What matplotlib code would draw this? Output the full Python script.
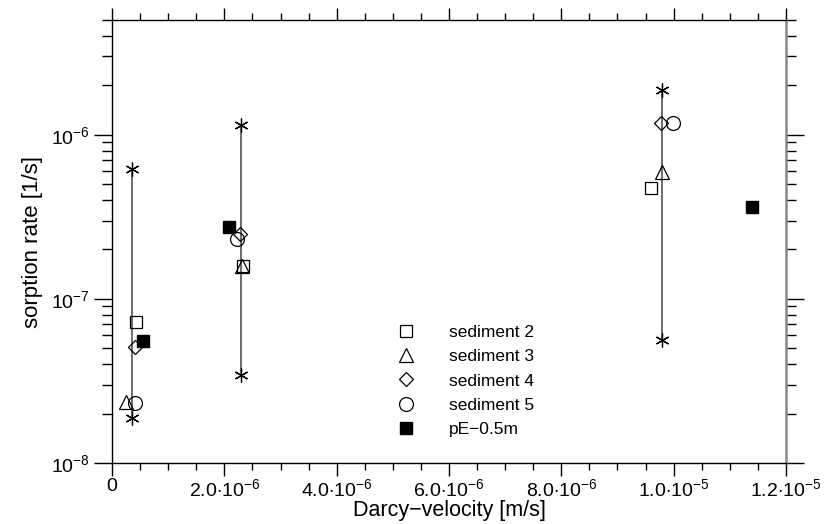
import numpy as np
import matplotlib.pyplot as plt
from matplotlib.ticker import FixedLocator, MultipleLocator, LogLocator, NullFormatter

plt.rcParams['font.family'] = ['Liberation Sans', 'DejaVu Sans']
plt.rcParams['mathtext.fontset'] = 'custom'
plt.rcParams['mathtext.rm'] = 'Liberation Sans'
plt.rcParams['mathtext.it'] = 'Liberation Sans:italic'

# ranges (asterisks joined by a vertical line)
range_x = [0.35e-6, 2.29e-6, 9.80e-6]
range_hi = [6.2e-7, 1.15e-6, 1.87e-6]
range_lo = [1.87e-8, 3.46e-8, 5.62e-8]

# sediment series
sed2_x = [0.42e-6, 2.33e-6, 9.60e-6]
sed2_y = [7.2e-8, 1.58e-7, 4.73e-7]
sed3_x = [0.25e-6, 2.31e-6, 9.80e-6]
sed3_y = [2.35e-8, 1.58e-7, 5.9e-7]
sed4_x = [0.41e-6, 2.28e-6, 9.78e-6]
sed4_y = [5.1e-8, 2.47e-7, 1.18e-6]
sed5_x = [0.41e-6, 2.23e-6, 9.99e-6]
sed5_y = [2.32e-8, 2.30e-7, 1.18e-6]
pe_x = [0.55e-6, 2.09e-6, 11.40e-6]
pe_y = [5.5e-8, 2.74e-7, 3.63e-7]

xtick_vals = [0, 2e-6, 4e-6, 6e-6, 8e-6, 1e-5, 1.2e-5]
xtick_labels = ['0', r'$2.0{\cdot}10^{-6}$', r'$4.0{\cdot}10^{-6}$', r'$6.0{\cdot}10^{-6}$',
                r'$8.0{\cdot}10^{-6}$', r'$1.0{\cdot}10^{-5}$', r'$1.2{\cdot}10^{-5}$']

fig = plt.figure(figsize=(8.24, 5.24), dpi=100)
ax = fig.add_axes([112/824, 61/524, 674/824, 443/524])

for x, lo, hi in zip(range_x, range_lo, range_hi):
    ax.plot([x, x], [lo, hi], color='#444444', lw=1.1, zorder=1)
    ax.plot([x, x], [lo, hi], ls='none', marker=(6, 2, 0), ms=10, mec='black',
            mew=0.9, zorder=3)

mk = dict(ls='none', mfc='none', mec='black', mew=0.9, zorder=2)
ax.plot(sed2_x, sed2_y, marker='s', ms=8.5, label='sediment 2', **mk)
ax.plot(sed3_x, sed3_y, marker='^', ms=10, label='sediment 3', **mk)
ax.plot(sed4_x, sed4_y, marker='D', ms=7, label='sediment 4', **mk)
ax.plot(sed5_x, sed5_y, marker='o', ms=10, label='sediment 5', **mk)
ax.plot(pe_x, pe_y, ls='none', marker='s', ms=8, mfc='black', mec='black',
        label='pE\u22120.5m', zorder=2)

ax.set_yscale('log')
ax.set_xlim(0, 1.2e-5)
ax.set_ylim(1e-8, 5e-6)

ax.xaxis.set_major_locator(FixedLocator(xtick_vals))
ax.set_xticklabels(xtick_labels)
ax.xaxis.set_minor_locator(MultipleLocator(5e-7))
ax.yaxis.set_major_locator(LogLocator(base=10, numticks=10))
ax.yaxis.set_minor_locator(LogLocator(base=10, subs=np.arange(2, 10), numticks=20))
ax.yaxis.set_minor_formatter(NullFormatter())

ax.tick_params(axis='both', which='both', direction='out', width=1,
               labelsize=14, top=True, right=True)
ax.tick_params(axis='x', which='major', length=9, pad=2)
ax.tick_params(axis='x', which='minor', length=5)
ax.tick_params(axis='y', which='major', length=13, pad=3)
ax.tick_params(axis='y', which='minor', length=7)

for side in ['left', 'top', 'bottom']:
    ax.spines[side].set_linewidth(1)
ax.spines['right'].set_color('#888888')
ax.spines['right'].set_linewidth(1.8)

ax.set_xlabel('Darcy\u2212velocity [m/s]', fontsize=15.5, labelpad=0)
ax.set_ylabel('sorption rate [1/s]', fontsize=16, labelpad=6)

ax.legend(loc='upper left', bbox_to_anchor=(384/824, 1 - 316/524),
          bbox_transform=fig.transFigure, frameon=False, fontsize=12.5,
          handletextpad=1.75, labelspacing=0.53, borderpad=0, handlelength=1.5,
          numpoints=1)

fig.savefig('out.png', dpi=100)
